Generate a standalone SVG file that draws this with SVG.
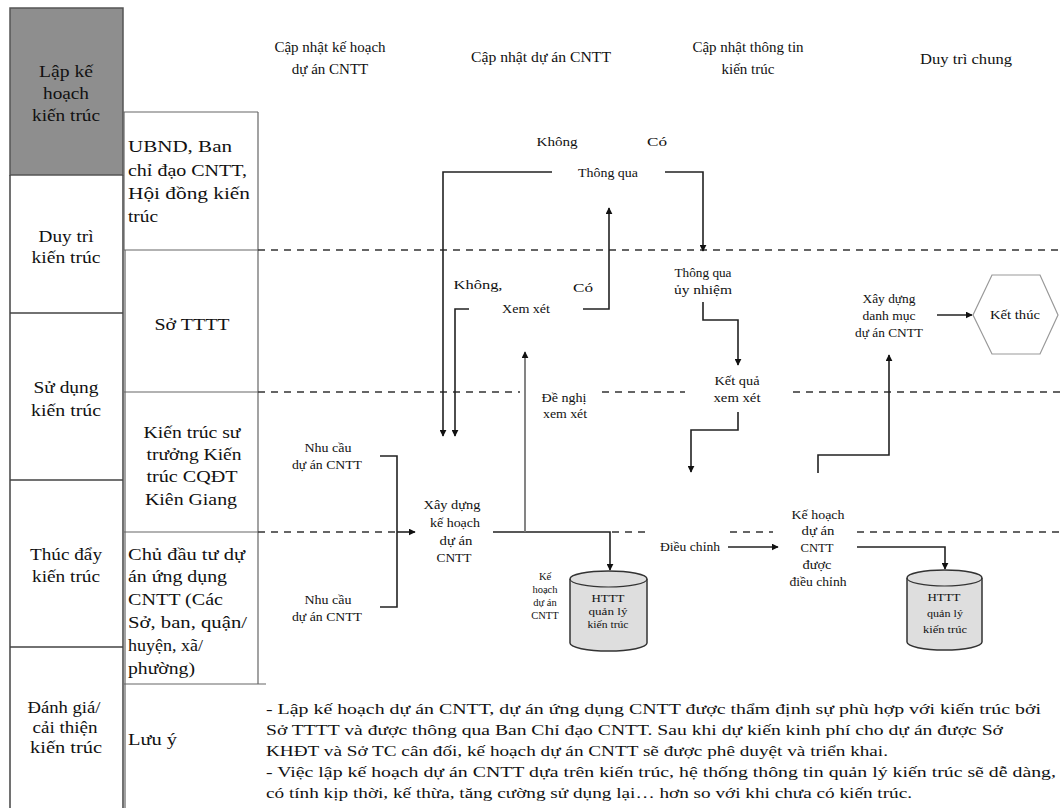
<svg xmlns="http://www.w3.org/2000/svg" width="1060" height="808" viewBox="0 0 1060 808">
<defs>
<style>
text{font-family:"Liberation Serif","Times New Roman",serif;fill:#111}
.st{font-size:16px;text-anchor:middle}
.ac{font-size:16px}
.acm{font-size:16px;text-anchor:middle}
.hd{font-size:15px;text-anchor:middle}
.sm{font-size:12px;text-anchor:middle}
.xs{font-size:10.5px;text-anchor:middle}
.md{font-size:12.5px;text-anchor:middle}
.nt{font-size:14px}
.bd{stroke:#444;stroke-width:1.5;fill:none}
.bd2{stroke:#666;stroke-width:1.2;fill:none}
.dash{stroke:#333;stroke-width:1.6;stroke-dasharray:7 6;fill:none}
.cn{stroke:#222;stroke-width:1.6;fill:none}
.cng{stroke:#777;stroke-width:1.8;fill:none}
.cyl{fill:#dedede;stroke:#333;stroke-width:1.5}
</style>
<marker id="ar" viewBox="0 0 10 10" refX="9" refY="5" markerWidth="7" markerHeight="7" orient="auto" markerUnits="userSpaceOnUse">
<path d="M0,0 L10,5 L0,10 z" fill="#111"/>
</marker>
</defs>
<rect width="1060" height="808" fill="#fff"/>

<g id="stage-lap-ke-hoach">
<rect x="10" y="8" width="113" height="167" fill="#8e8e8e" stroke="#555" stroke-width="1.5"/>
<text class="st" x="66" y="77" textLength="54" lengthAdjust="spacingAndGlyphs">Lập kế</text>
<text class="st" x="66" y="99" textLength="46" lengthAdjust="spacingAndGlyphs">hoạch</text>
<text class="st" x="66" y="121" textLength="68" lengthAdjust="spacingAndGlyphs">kiến trúc</text>
</g>
<g id="stage-duy-tri">
<path class="bd" d="M10,175 V313 M123,175 V313"/>
<text class="st" x="66" y="242" textLength="55" lengthAdjust="spacingAndGlyphs">Duy trì</text>
<text class="st" x="66" y="263" textLength="69" lengthAdjust="spacingAndGlyphs">kiến trúc</text>
</g>
<g id="stage-su-dung">
<path class="bd" d="M10,313 H123 M10,313 V480 M123,313 V480"/>
<text class="st" x="66" y="393" textLength="65" lengthAdjust="spacingAndGlyphs">Sử dụng</text>
<text class="st" x="66" y="416" textLength="70" lengthAdjust="spacingAndGlyphs">kiến trúc</text>
</g>
<g id="stage-thuc-day">
<path class="bd" d="M10,480 H123 M10,480 V647 M123,480 V647"/>
<text class="st" x="66" y="560" textLength="72" lengthAdjust="spacingAndGlyphs">Thúc đẩy</text>
<text class="st" x="66" y="582" textLength="68" lengthAdjust="spacingAndGlyphs">kiến trúc</text>
</g>
<g id="stage-danh-gia">
<path class="bd" d="M10,647 H123 M10,647 V808 M123,647 V808"/>
<text class="st" x="64" y="713" textLength="73" lengthAdjust="spacingAndGlyphs">Đánh giá/</text>
<text class="st" x="65" y="733" textLength="65" lengthAdjust="spacingAndGlyphs">cải thiện</text>
<text class="st" x="66" y="753" textLength="72" lengthAdjust="spacingAndGlyphs">kiến trúc</text>
</g>

<g id="actor-ubnd">
<path class="bd2" d="M123,112 H258 M258,112 V250 M124,112 V250"/>
<text class="ac" x="128" y="152" textLength="104" lengthAdjust="spacingAndGlyphs">UBND, Ban</text>
<text class="ac" x="128" y="176" textLength="119" lengthAdjust="spacingAndGlyphs">chỉ đạo CNTT,</text>
<text class="ac" x="128" y="199" textLength="122" lengthAdjust="spacingAndGlyphs">Hội đồng kiến</text>
<text class="ac" x="128" y="222" textLength="30" lengthAdjust="spacingAndGlyphs">trúc</text>
</g>
<g id="actor-so-tttt">
<path class="bd2" d="M124,250 H258 M258,250 V392 M125,250 V392"/>
<text class="acm" x="192" y="330" textLength="75" lengthAdjust="spacingAndGlyphs">Sở TTTT</text>
</g>
<g id="actor-kts">
<path class="bd2" d="M124,392 H258 M258,392 V532 M125,392 V532"/>
<text class="acm" x="192" y="438" textLength="97" lengthAdjust="spacingAndGlyphs">Kiến trúc sư</text>
<text class="acm" x="194" y="460" textLength="95" lengthAdjust="spacingAndGlyphs">trưởng Kiến</text>
<text class="acm" x="192" y="482" textLength="91" lengthAdjust="spacingAndGlyphs">trúc CQĐT</text>
<text class="acm" x="191" y="505" textLength="92" lengthAdjust="spacingAndGlyphs">Kiên Giang</text>
</g>
<g id="actor-chu-dau-tu">
<path class="bd2" d="M124,532 H258 M258,532 V684 M125,532 V684"/>
<text class="ac" x="128" y="560" textLength="117" lengthAdjust="spacingAndGlyphs">Chủ đầu tư dự</text>
<text class="ac" x="128" y="582" textLength="99" lengthAdjust="spacingAndGlyphs">án ứng dụng</text>
<text class="ac" x="128" y="605" textLength="95" lengthAdjust="spacingAndGlyphs">CNTT (Các</text>
<text class="ac" x="128" y="628" textLength="119" lengthAdjust="spacingAndGlyphs">Sở, ban, quận/</text>
<text class="ac" x="128" y="651" textLength="75" lengthAdjust="spacingAndGlyphs">huyện, xã/</text>
<text class="ac" x="128" y="674" textLength="67" lengthAdjust="spacingAndGlyphs">phường)</text>
</g>
<g id="actor-luu-y">
<path class="bd2" d="M124,684 H266 M125,684 V808"/>
<text class="ac" x="128" y="745" textLength="49" lengthAdjust="spacingAndGlyphs">Lưu ý</text>
</g>

<g id="headers">
<text class="hd" x="330" y="52">Cập nhật kế hoạch</text>
<text class="hd" x="330" y="74">dự án CNTT</text>
<text class="hd" x="541" y="62" textLength="140" lengthAdjust="spacingAndGlyphs">Cập nhật dự án CNTT</text>
<text class="hd" x="748" y="52">Cập nhật thông tin</text>
<text class="hd" x="748" y="74">kiến trúc</text>
<text class="hd" x="966" y="64" textLength="92" lengthAdjust="spacingAndGlyphs">Duy trì chung</text>
</g>

<g id="lanes">
<path class="dash" d="M258,250 H1060"/>
<path class="dash" d="M258,392 H520 M602,392 H685 M793,392 H1060"/>
<path class="dash" d="M258,532 H397 M612,532 H647 M730,532 H773 M857,532 H1060"/>
</g>

<g id="connectors">
<path class="cn" d="M552,172 H443 V436" marker-end="url(#ar)"/>
<path class="cn" d="M665,172 H703 V251" marker-end="url(#ar)"/>
<path class="cn" d="M469,309 H455 V436" marker-end="url(#ar)"/>
<path class="cn" d="M583,309 H609 V208" marker-end="url(#ar)"/>
<path class="cn" d="M380,456 H397 V607 H380"/>
<path class="cn" d="M397,532 H415" marker-end="url(#ar)"/>
<path class="cn" d="M493,532 H610 V570" marker-end="url(#ar)"/>
<path class="cng" d="M525,532 V352" marker-end="url(#ar)"/>
<path class="cn" d="M703,302 V320 H738 V365" marker-end="url(#ar)"/>
<path class="cn" d="M738,412 V430 H691 V472" marker-end="url(#ar)"/>
<path class="cn" d="M728,547 H778" marker-end="url(#ar)"/>
<path class="cn" d="M857,547 H945 V569" marker-end="url(#ar)"/>
<path class="cn" d="M818,473 V455 H889 V355" marker-end="url(#ar)"/>
<path class="cn" d="M937,315 H972" marker-end="url(#ar)"/>
</g>

<g id="decision-ubnd">
<text class="md" x="557" y="146" textLength="41" lengthAdjust="spacingAndGlyphs">Không</text>
<text class="md" x="657" y="146" textLength="20" lengthAdjust="spacingAndGlyphs">Có</text>
<text class="md" x="608" y="177" textLength="60" lengthAdjust="spacingAndGlyphs">Thông qua</text>
</g>
<g id="decision-xem-xet">
<text class="md" x="478" y="289" textLength="49" lengthAdjust="spacingAndGlyphs">Không,</text>
<text class="md" x="583" y="292" textLength="20" lengthAdjust="spacingAndGlyphs">Có</text>
<text class="md" x="526" y="313" textLength="48" lengthAdjust="spacingAndGlyphs">Xem xét</text>
</g>
<g id="node-thong-qua-uy-nhiem">
<text class="sm" x="703" y="277" textLength="57" lengthAdjust="spacingAndGlyphs">Thông qua</text>
<text class="sm" x="703" y="294" textLength="58" lengthAdjust="spacingAndGlyphs">ủy nhiệm</text>
</g>
<g id="node-ket-qua">
<text class="sm" x="737" y="385" textLength="45" lengthAdjust="spacingAndGlyphs">Kết quả</text>
<text class="sm" x="737" y="402" textLength="47" lengthAdjust="spacingAndGlyphs">xem xét</text>
</g>
<g id="node-de-nghi">
<text class="sm" x="564" y="402" textLength="45" lengthAdjust="spacingAndGlyphs">Đề nghị</text>
<text class="sm" x="565" y="418" textLength="44" lengthAdjust="spacingAndGlyphs">xem xét</text>
</g>
<g id="node-danh-muc">
<text class="sm" x="889" y="303" textLength="53" lengthAdjust="spacingAndGlyphs">Xây dựng</text>
<text class="sm" x="889" y="320" textLength="53" lengthAdjust="spacingAndGlyphs">danh mục</text>
<text class="sm" x="889" y="337" textLength="68" lengthAdjust="spacingAndGlyphs">dự án CNTT</text>
</g>
<g id="node-ket-thuc">
<polygon points="973,315 992,275 1040,275 1058,315 1040,354 992,354" fill="#fff" stroke="#999" stroke-width="1.2"/>
<text class="md" x="1015" y="319" textLength="50" lengthAdjust="spacingAndGlyphs">Kết thúc</text>
</g>
<g id="node-nhu-cau-1">
<text class="sm" x="328" y="452" textLength="47" lengthAdjust="spacingAndGlyphs">Nhu cầu</text>
<text class="sm" x="327" y="469" textLength="70" lengthAdjust="spacingAndGlyphs">dự án CNTT</text>
</g>
<g id="node-nhu-cau-2">
<text class="sm" x="328" y="604" textLength="47" lengthAdjust="spacingAndGlyphs">Nhu cầu</text>
<text class="sm" x="327" y="621" textLength="70" lengthAdjust="spacingAndGlyphs">dự án CNTT</text>
</g>
<g id="node-xay-dung-ke-hoach">
<text class="sm" x="452" y="509" textLength="57" lengthAdjust="spacingAndGlyphs">Xây dựng</text>
<text class="sm" x="455" y="527" textLength="50" lengthAdjust="spacingAndGlyphs">kế hoạch</text>
<text class="sm" x="456" y="545" textLength="33" lengthAdjust="spacingAndGlyphs">dự án</text>
<text class="sm" x="454" y="562" textLength="35" lengthAdjust="spacingAndGlyphs">CNTT</text>
</g>
<g id="node-ke-hoach">
<text class="xs" x="545" y="580">Kế</text>
<text class="xs" x="545" y="593">hoạch</text>
<text class="xs" x="545" y="606">dự án</text>
<text class="xs" x="545" y="619">CNTT</text>
</g>
<g id="node-dieu-chinh">
<text class="sm" x="690" y="551" textLength="60" lengthAdjust="spacingAndGlyphs">Điều chỉnh</text>
</g>
<g id="node-ke-hoach-dieu-chinh">
<text class="sm" x="818" y="519" textLength="53" lengthAdjust="spacingAndGlyphs">Kế hoạch</text>
<text class="sm" x="818" y="535" textLength="33" lengthAdjust="spacingAndGlyphs">dự án</text>
<text class="sm" x="817" y="552" textLength="33" lengthAdjust="spacingAndGlyphs">CNTT</text>
<text class="sm" x="817" y="569" textLength="29" lengthAdjust="spacingAndGlyphs">được</text>
<text class="sm" x="818" y="586" textLength="57" lengthAdjust="spacingAndGlyphs">điều chỉnh</text>
</g>
<g id="node-httt-1">
<path class="cyl" d="M570,579 A38.5,8 0 0 1 647,579 V643 A38.5,8 0 0 1 570,643 Z"/>
<path d="M570,579 A38.5,8 0 0 0 647,579" fill="none" stroke="#333" stroke-width="1.2"/>
<text class="xs" x="608" y="602" textLength="33" lengthAdjust="spacingAndGlyphs">HTTT</text>
<text class="xs" x="608" y="615" textLength="39" lengthAdjust="spacingAndGlyphs">quản lý</text>
<text class="xs" x="608" y="628" textLength="41" lengthAdjust="spacingAndGlyphs">kiến trúc</text>
</g>
<g id="node-httt-2">
<path class="cyl" d="M907,578 A37.5,8 0 0 1 982,578 V642 A37.5,8 0 0 1 907,642 Z"/>
<path d="M907,578 A37.5,8 0 0 0 982,578" fill="none" stroke="#333" stroke-width="1.2"/>
<text class="xs" x="944" y="601" textLength="33" lengthAdjust="spacingAndGlyphs">HTTT</text>
<text class="xs" x="945" y="617" textLength="36" lengthAdjust="spacingAndGlyphs">quản lý</text>
<text class="xs" x="945" y="633" textLength="44" lengthAdjust="spacingAndGlyphs">kiến trúc</text>
</g>

<g id="note">
<text class="nt" x="266" y="714" textLength="775" lengthAdjust="spacingAndGlyphs">- Lập kế hoạch dự án CNTT, dự án ứng dụng CNTT được thẩm định sự phù hợp với kiến trúc bởi</text>
<text class="nt" x="266" y="735" textLength="737" lengthAdjust="spacingAndGlyphs">Sở TTTT và được thông qua Ban Chỉ đạo CNTT. Sau khi dự kiến kinh phí cho dự án được Sở</text>
<text class="nt" x="266" y="756" textLength="622" lengthAdjust="spacingAndGlyphs">KHĐT và Sở TC cân đối, kế hoạch dự án CNTT sẽ được phê duyệt và triển khai.</text>
<text class="nt" x="266" y="777" textLength="790" lengthAdjust="spacingAndGlyphs">- Việc lập kế hoạch dự án CNTT dựa trên kiến trúc, hệ thống thông tin quản lý kiến trúc sẽ dễ dàng,</text>
<text class="nt" x="266" y="798" textLength="646" lengthAdjust="spacingAndGlyphs">có tính kịp thời, kế thừa, tăng cường sử dụng lại… hơn so với khi chưa có kiến trúc.</text>
</g>
</svg>
